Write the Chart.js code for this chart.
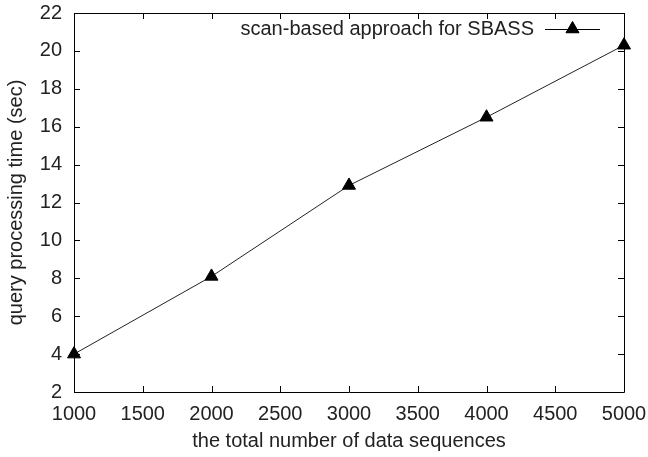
<!DOCTYPE html>
<html>
<head>
<meta charset="utf-8">
<script src="https://cdn.jsdelivr.net/npm/chart.js@4"></script>
<style>
html,body{margin:0;padding:0;background:#fff;}
#wrap{width:648px;height:457px;position:relative;}
</style>
</head>
<body>
<div id="wrap"><canvas id="c" width="648" height="457"></canvas></div>
<script>
const sequences = [1000, 2000, 3000, 4000, 5000];
const queryTime = [4.0, 8.1, 12.9, 16.5, 20.3];
const seriesLabel = 'scan-based approach for SBASS';
const xTitle = 'the total number of data sequences';
const yTitle = 'query processing time (sec)';

const FONT = '"Liberation Sans", Arial, sans-serif';

const frame = {
  id: 'frame',
  afterDraw(chart) {
    const ctx = chart.ctx, a = chart.chartArea;
    const xs = chart.scales.x, ys = chart.scales.y;
    ctx.save();
    ctx.strokeStyle = '#000';
    ctx.lineWidth = 1;
    ctx.beginPath();
    ctx.rect(Math.round(a.left) + 0.5, Math.round(a.top) + 0.5, Math.round(a.right - a.left), Math.round(a.bottom - a.top));
    ctx.stroke();
    const L = 6;
    ctx.beginPath();
    xs.ticks.forEach(t => {
      const px = Math.round(xs.getPixelForValue(t.value)) + 0.5;
      ctx.moveTo(px, a.bottom); ctx.lineTo(px, a.bottom - L);
      ctx.moveTo(px, a.top); ctx.lineTo(px, a.top + L);
    });
    ys.ticks.forEach(t => {
      const py = Math.round(ys.getPixelForValue(t.value)) + 0.5;
      ctx.moveTo(a.left, py); ctx.lineTo(a.left + L, py);
      ctx.moveTo(a.right, py); ctx.lineTo(a.right - L, py);
    });
    ctx.stroke();
    // legend
    const ds = chart.data.datasets[0];
    const ly = a.top + 16;
    const lineEnd = a.right - 24;
    const lineStart = lineEnd - 55;
    ctx.fillStyle = '#222';
    ctx.font = '20px ' + FONT;
    ctx.textAlign = 'right';
    ctx.textBaseline = 'middle';
    ctx.fillText(ds.label, lineStart - 11, ly);
    ctx.strokeStyle = '#000';
    ctx.beginPath();
    ctx.moveTo(lineStart, ly + 0.5); ctx.lineTo(lineEnd, ly + 0.5);
    ctx.stroke();
    Chart.helpers.drawPoint(ctx, {pointStyle: 'triangle', radius: 7.5, rotation: 0, borderWidth: 1}, (lineStart + lineEnd) / 2, ly);
    ctx.fillStyle = '#000';
    ctx.fill();
    ctx.restore();
  }
};

new Chart(document.getElementById('c'), {
  type: 'line',
  data: {
    datasets: [{
      label: seriesLabel,
      data: sequences.map((x, i) => ({x: x, y: queryTime[i]})),
      borderColor: '#222',
      borderWidth: 1,
      pointStyle: 'triangle',
      pointRadius: 7.5,
      pointBackgroundColor: '#000',
      pointBorderColor: '#000',
      tension: 0,
      clip: false
    }]
  },
  options: {
    responsive: false,
    animation: false,
    devicePixelRatio: 1,
    layout: {padding: {top: 13, right: 24, left: 0, bottom: 0}},
    plugins: {legend: {display: false}, tooltip: {enabled: false}},
    scales: {
      x: {
        type: 'linear', min: 1000, max: 5000,
        border: {display: false},
        grid: {display: false, drawTicks: false},
        ticks: {stepSize: 500, color: '#222', padding: 10, font: {family: FONT, size: 20}, callback: v => String(v)},
        title: {display: true, text: xTitle, color: '#222', font: {family: FONT, size: 20}, padding: {top: 6}},
        afterFit(s) { s.height = 65; s.paddingLeft = 0; s.paddingRight = 0; }
      },
      y: {
        min: 2, max: 22,
        border: {display: false},
        grid: {display: false, drawTicks: false},
        ticks: {stepSize: 2, color: '#222', padding: 12, font: {family: FONT, size: 20}},
        title: {display: true, text: yTitle, color: '#222', font: {family: FONT, size: 20}, padding: {bottom: 2}},
        afterFit(s) { s.width = 74; s.paddingTop = 0; s.paddingBottom = 0; }
      }
    }
  },
  plugins: [frame]
});
</script>
</body>
</html>
